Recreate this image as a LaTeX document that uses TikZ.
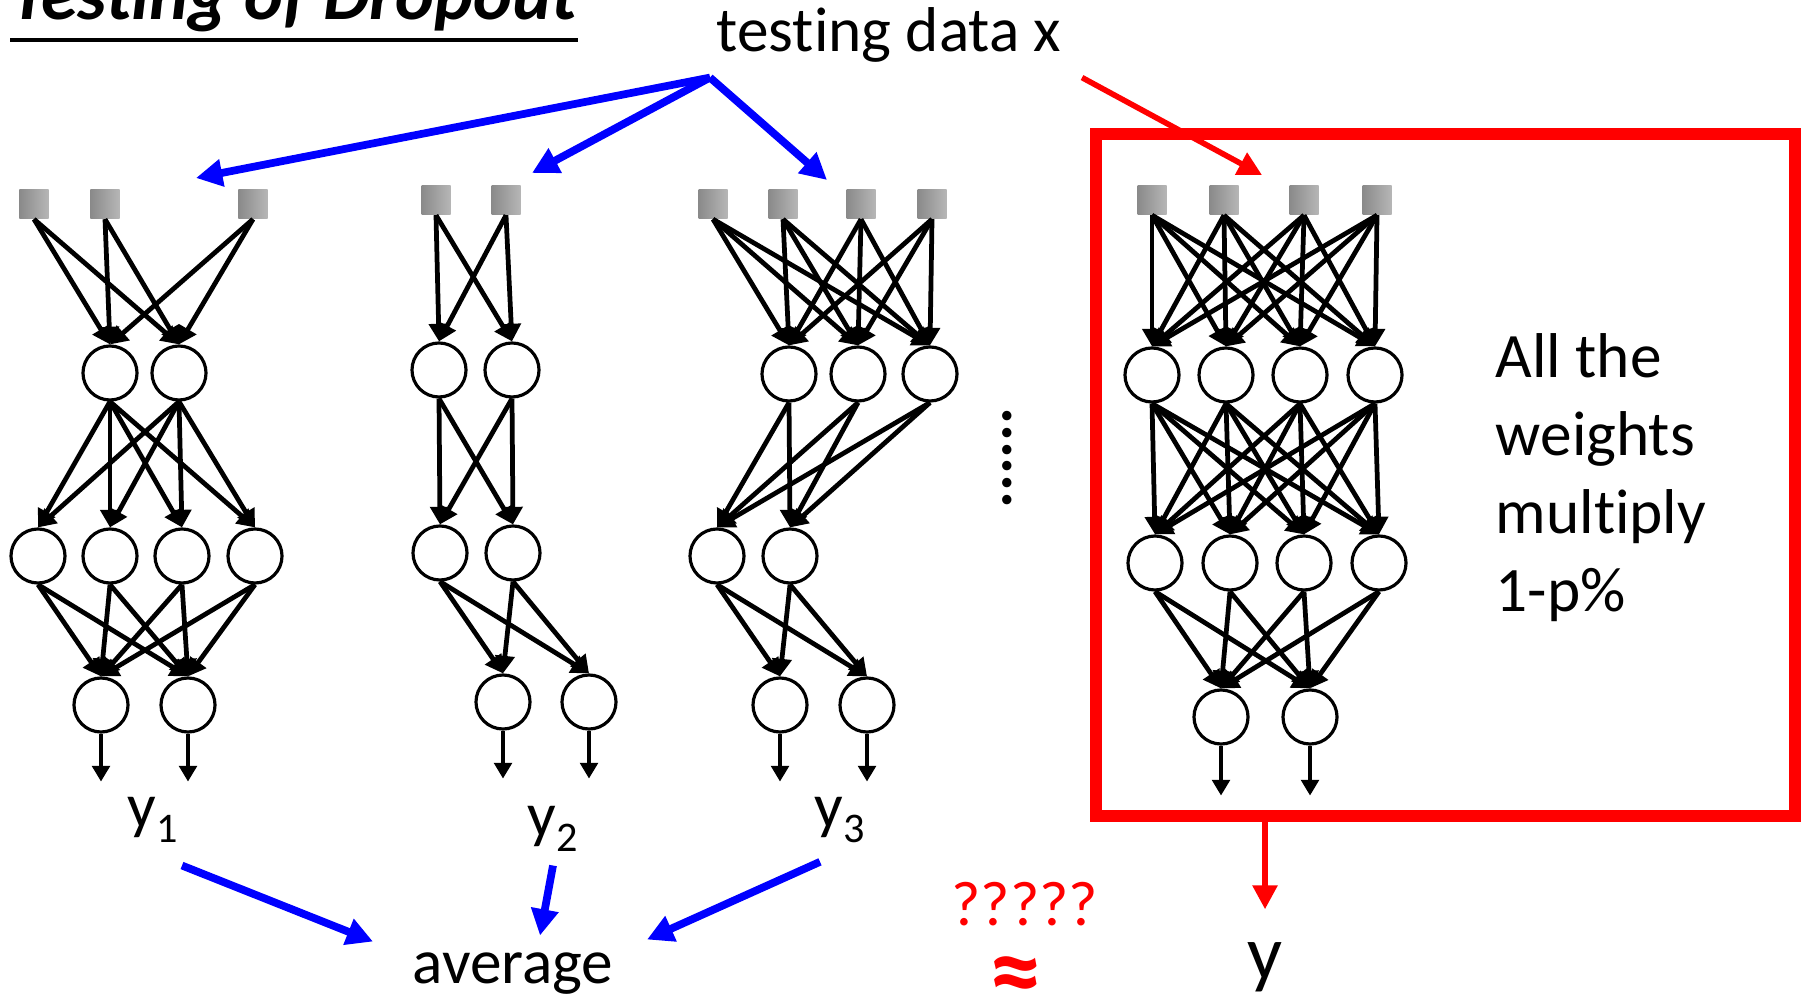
\documentclass[tikz,border=0pt]{standalone}
\usepackage{fontspec}
\setmainfont{Carlito}[Ligatures=NoCommon]
\usetikzlibrary{arrows.meta,calc}
\definecolor{sqdark}{RGB}{138,138,138}
\definecolor{sqlight}{RGB}{182,182,182}

\begin{document}
\begin{tikzpicture}[
    x=0.01cm, y=-0.01cm,
    font=\fontsize{18}{22.2}\selectfont,
    neuron/.style={circle, draw, line width=0.9pt, minimum size=0.54cm, inner sep=0pt},
    inbox/.style={rectangle, minimum size=0.29cm, inner sep=0pt, left color=sqdark, right color=sqlight},
    wire/.style={-{Triangle[length=5pt,width=5.4pt]}, line width=1.35pt},
    outwire/.style={-{Triangle[length=4.5pt,width=5pt]}, line width=1.25pt},
    feed/.style={-{Triangle[length=7.5pt,width=7.5pt]}, line width=2.2pt, blue},
    hot/.style={-{Triangle[length=6.8pt,width=6.8pt]}, line width=1.6pt, red},
    txt/.style={inner sep=0pt}
]
\useasboundingbox (0,0) rectangle (1804,995);
\clip (0,0) rectangle (1804,995);

\node[txt, anchor=base west, font=\fontsize{21}{25}\selectfont\bfseries\itshape] (title) at (10,20) {Testing of Dropout};
\draw[line width=1.3pt] ([yshift=-0.2cm]title.base west) -- ([yshift=-0.2cm]title.base east);
\node[txt, anchor=base west] (data) at (716,52) {testing data x};

% first thinned network
\foreach \x [count=\i] in {34,105,253} \node[inbox] (A-in\i) at (\x,204) {};
\foreach \x [count=\i] in {110,179} \node[neuron] (A-ha\i) at (\x,373) {};
\foreach \x [count=\i] in {38,110,182,255} \node[neuron] (A-hb\i) at (\x,556) {};
\foreach \x [count=\i] in {101,188} \node[neuron] (A-out\i) at (\x,705) {};
\foreach \i in {1,2,3} \foreach \j in {1,2} \draw[wire] (A-in\i.south) -- (A-ha\j.north);
\foreach \i in {1,2} \foreach \j in {1,...,4} \draw[wire] (A-ha\i.south) -- (A-hb\j.north);
\foreach \i in {1,...,4} \foreach \j in {1,2} \draw[wire] (A-hb\i.south) -- (A-out\j.north);
\foreach \j in {1,2} \draw[outwire] (A-out\j.south) -- ++(0,48);

% second thinned network
\foreach \x [count=\i] in {436,506} \node[inbox] (B-in\i) at (\x,200) {};
\foreach \x [count=\i] in {439,512} \node[neuron] (B-ha\i) at (\x,370) {};
\foreach \x [count=\i] in {440,513} \node[neuron] (B-hb\i) at (\x,553) {};
\foreach \x [count=\i] in {503,589} \node[neuron] (B-out\i) at (\x,702) {};
\foreach \i in {1,2} \foreach \j in {1,2} \draw[wire] (B-in\i.south) -- (B-ha\j.north);
\foreach \i in {1,2} \foreach \j in {1,2} \draw[wire] (B-ha\i.south) -- (B-hb\j.north);
\foreach \i in {1,2} \foreach \j in {1,2} \draw[wire] (B-hb\i.south) -- (B-out\j.north);
\foreach \j in {1,2} \draw[outwire] (B-out\j.south) -- ++(0,48);

% third thinned network
\foreach \x [count=\i] in {713,783,861,932} \node[inbox] (C-in\i) at (\x,204) {};
\foreach \x [count=\i] in {789,858,930} \node[neuron] (C-ha\i) at (\x,374) {};
\foreach \x [count=\i] in {717,790} \node[neuron] (C-hb\i) at (\x,556) {};
\foreach \x [count=\i] in {780,867} \node[neuron] (C-out\i) at (\x,705) {};
\foreach \i in {1,...,4} \foreach \j in {1,2,3} \draw[wire] (C-in\i.south) -- (C-ha\j.north);
\foreach \i in {1,2,3} \foreach \j in {1,2} \draw[wire] (C-ha\i.south) -- (C-hb\j.north);
\foreach \i in {1,2} \foreach \j in {1,2} \draw[wire] (C-hb\i.south) -- (C-out\j.north);
\foreach \j in {1,2} \draw[outwire] (C-out\j.south) -- ++(0,48);

\node[txt, rotate=90, font=\fontsize{18}{18}\selectfont\bfseries] (dots) at (1007,458) {......};

% full network
\foreach \x [count=\i] in {1152,1224,1304,1377} \node[inbox] (D-in\i) at (\x,200) {};
\foreach \x [count=\i] in {1152,1226,1300,1375} \node[neuron] (D-ha\i) at (\x,375) {};
\foreach \x [count=\i] in {1155,1230,1304,1379} \node[neuron] (D-hb\i) at (\x,563) {};
\foreach \x [count=\i] in {1221,1310} \node[neuron] (D-out\i) at (\x,717) {};
\foreach \i in {1,...,4} \foreach \j in {1,...,4} \draw[wire] (D-in\i.south) -- (D-ha\j.north);
\foreach \i in {1,...,4} \foreach \j in {1,...,4} \draw[wire] (D-ha\i.south) -- (D-hb\j.north);
\foreach \i in {1,...,4} \foreach \j in {1,2} \draw[wire] (D-hb\i.south) -- (D-out\j.north);
\foreach \j in {1,2} \draw[outwire] (D-out\j.south) -- ++(0,50);

\node[draw=red, line width=3.4pt, minimum width=6.99cm, minimum height=6.82cm, inner sep=0pt] (frame) at (1445.5,475) {};
\node[txt, anchor=north west, align=left] (note) at (1495,333) {All the\\weights\\multiply\\1-p\%};

\node[txt, anchor=base] (y1) at (153,827) {y\raisebox{-4.5pt}{\fontsize{12}{12}\selectfont 1}};
\node[txt, anchor=base] (y2) at (553,836) {y\raisebox{-4.5pt}{\fontsize{12}{12}\selectfont 2}};
\node[txt, anchor=base] (y3) at (840,827) {y\raisebox{-4.5pt}{\fontsize{12}{12}\selectfont 3}};
\node[txt, anchor=base west] (avg) at (412,983) {average};
\node[txt, anchor=base, red] (qs) at (1025,925) {?????};
\node[txt, red, font=\fontsize{30}{30}\selectfont\bfseries] (approx) at (1016,982) {≈};
\node[txt, anchor=base, font=\fontsize{22}{26}\selectfont] (yout) at (1265,979) {y};

\coordinate (fork) at ($(data.south west)+(-6,14)$);
\coordinate (A-top) at (196,178);
\coordinate (B-top) at (532,173);
\coordinate (C-top) at (827,180);
\coordinate (D-top) at (1262,175);
\draw[feed] (fork) -- (A-top);
\draw[feed] (fork) -- (B-top);
\draw[feed] (fork) -- (C-top);
\draw[hot] ($(data.south east)+(20,14)$) -- (D-top);
\draw[hot, shorten >=0.32cm] (frame.south -| yout) -- (yout);

\draw[feed] ($(y1.south)+(29,22)$) -- ($(avg.north west)+(-39,-10)$);
\draw[feed] ($(y2.south)+(0,13)$) -- ($(avg.north)+(27,-16)$);
\draw[feed] ($(y3.south)+(-20,18)$) -- ($(avg.north east)+(33,-12)$);
\end{tikzpicture}
\end{document}
